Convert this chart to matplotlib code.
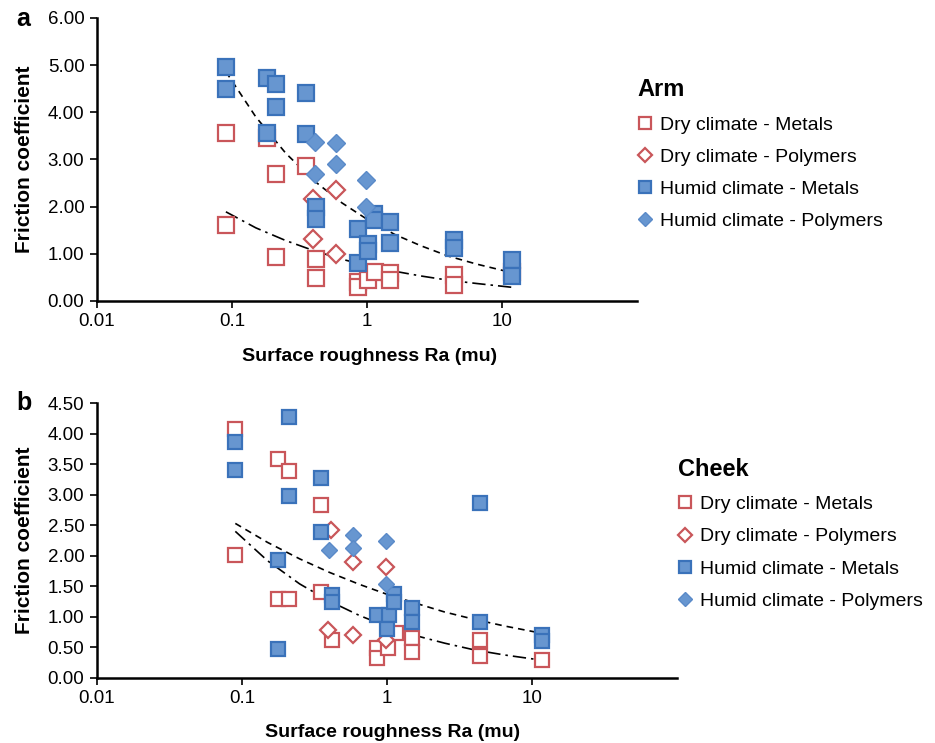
import matplotlib.pyplot as plt
import numpy as np

plt.rcParams['font.family'] = ['Liberation Sans', 'DejaVu Sans']

# ---- panel a (Arm) ----
a_dry_met_x = [0.09, 0.09, 0.18, 0.21, 0.21, 0.35, 0.42, 0.42, 0.86, 0.86, 1.02, 1.14, 1.48, 1.48, 4.37, 4.37, 11.8]
a_dry_met_y = [3.57, 1.61, 3.45, 2.70, 0.94, 2.86, 0.90, 0.48, 0.41, 0.30, 0.45, 0.62, 0.59, 0.45, 0.55, 0.34, 0.62]
a_dry_pol_x = [0.40, 0.40, 0.59, 0.59]
a_dry_pol_y = [2.17, 1.31, 2.35, 1.00]
a_hum_met_x = [0.09, 0.09, 0.18, 0.21, 0.21, 0.35, 0.18, 0.35, 0.42, 0.42, 0.86, 0.86, 1.02, 1.02,
               1.13, 1.13, 1.48, 1.48, 4.37, 4.37, 11.8, 11.8]
a_hum_met_y = [4.96, 4.50, 4.72, 4.59, 4.12, 4.41, 3.55, 3.54, 2.00, 1.74, 1.52, 0.81, 1.20, 1.05,
               1.85, 1.72, 1.68, 1.22, 1.29, 1.12, 0.87, 0.52]
a_hum_pol_x = [0.41, 0.59, 0.59, 0.41, 0.98, 0.98]
a_hum_pol_y = [3.38, 3.35, 2.90, 2.69, 2.56, 2.00]

# ---- panel b (Cheek) ----
b_dry_met_x = [0.089, 0.089, 0.178, 0.21, 0.35, 0.178, 0.21, 0.35, 0.42, 0.86, 0.86, 1.02, 1.16, 1.48, 1.48, 4.38, 4.38, 11.8]
b_dry_met_y = [4.07, 2.01, 3.58, 3.38, 2.83, 1.29, 1.29, 1.41, 0.62, 0.49, 0.32, 0.49, 0.73, 0.65, 0.43, 0.63, 0.36, 0.29]
b_dry_pol_x = [0.41, 0.585, 0.98, 0.39, 0.585, 0.98]
b_dry_pol_y = [2.42, 1.90, 1.82, 0.79, 0.70, 0.63]
b_hum_met_x = [0.089, 0.089, 0.21, 0.21, 0.35, 0.35, 0.178, 0.178, 0.42, 0.42, 0.86, 1.04, 1.0,
               1.12, 1.12, 1.48, 1.48, 4.38, 4.38, 11.8, 11.8]
b_hum_met_y = [3.86, 3.40, 4.27, 2.98, 3.28, 2.39, 1.93, 0.47, 1.36, 1.25, 1.03, 1.03, 0.80,
               1.38, 1.25, 1.14, 0.92, 2.87, 0.91, 0.70, 0.60]
b_hum_pol_x = [0.40, 0.585, 0.585, 0.98, 0.98]
b_hum_pol_y = [2.09, 2.34, 2.12, 2.24, 1.54]

# trend lines
trend_x = [0.09, 0.15, 0.25, 0.4, 0.65, 1, 1.6, 2.5, 4, 6.5, 11.8]
a_trend_hum = [4.86, 3.90, 3.13, 2.56, 2.08, 1.73, 1.41, 1.17, 0.95, 0.78, 0.60]
a_trend_dry = [1.89, 1.55, 1.28, 1.07, 0.885, 0.75, 0.63, 0.53, 0.44, 0.37, 0.29]
b_trend_hum = [2.53, 2.22, 1.95, 1.73, 1.53, 1.37, 1.22, 1.08, 0.96, 0.85, 0.73]
b_trend_dry = [2.40, 1.92, 1.54, 1.26, 1.02, 0.845, 0.69, 0.57, 0.46, 0.376, 0.29]

red = '#c9565a'
blue_face = '#6796d0'
blue_edge = '#3a72ba'

fig = plt.figure(figsize=(9.35, 7.43), dpi=100)
ax1 = fig.add_axes([0.1037, 0.5949, 0.578, 0.381])
ax2 = fig.add_axes([0.1037, 0.0875, 0.6203, 0.370])


def draw(ax, dm, dp, hm, hp, th, td, ms):
    ax.plot(trend_x, th, color='black', lw=1.2, ls=(0, (4, 3)), zorder=1)
    ax.plot(trend_x, td, color='black', lw=1.2, ls=(0, (8, 3, 1.5, 3)), zorder=1)
    ax.plot(dm[0], dm[1], ls='none', marker='s', ms=ms, mfc='white', mec=red, mew=1.6,
            label='Dry climate - Metals', zorder=2)
    ax.plot(dp[0], dp[1], ls='none', marker='D', ms=ms * 0.82, mfc='white', mec=red, mew=1.6,
            label='Dry climate - Polymers', zorder=2)
    ax.plot(hm[0], hm[1], ls='none', marker='s', ms=ms, mfc=blue_face, mec=blue_edge, mew=1.6,
            label='Humid climate - Metals', zorder=3)
    ax.plot(hp[0], hp[1], ls='none', marker='D', ms=ms * 0.82, mfc=blue_face, mec='#5a8ac8', mew=1.0,
            label='Humid climate - Polymers', zorder=3)
    ax.set_xscale('log')
    ax.set_xlim(0.01, 100)
    ax.set_xticks([0.01, 0.1, 1, 10])
    ax.set_xticklabels(['0.01', '0.1', '1', '10'])
    ax.minorticks_off()
    for s in ['top', 'right']:
        ax.spines[s].set_visible(False)
    for s in ['left', 'bottom']:
        ax.spines[s].set_linewidth(1.8)
    ax.tick_params(labelsize=13.5, length=5, width=1.2, pad=4)
    ax.set_xlabel('Surface roughness Ra (mu)', fontsize=14, fontweight='bold')
    ax.set_ylabel('Friction coefficient', fontsize=15, fontweight='bold')
    ax.xaxis.label.set_va('center')
    ax.yaxis.label.set_va('center')


draw(ax1, (a_dry_met_x, a_dry_met_y), (a_dry_pol_x, a_dry_pol_y), (a_hum_met_x, a_hum_met_y),
     (a_hum_pol_x, a_hum_pol_y), a_trend_hum, a_trend_dry, 11)
ax1.set_ylim(0, 6)
ax1.set_yticks(np.arange(0, 6.01, 1))
ax1.set_yticklabels(['%.2f' % v for v in np.arange(0, 6.01, 1)])
ax1.xaxis.set_label_coords(0.504, -0.197)
ax1.yaxis.set_label_coords(-0.134, 0.5)

draw(ax2, (b_dry_met_x, b_dry_met_y), (b_dry_pol_x, b_dry_pol_y), (b_hum_met_x, b_hum_met_y),
     (b_hum_pol_x, b_hum_pol_y), b_trend_hum, b_trend_dry, 10.5)
ax2.set_ylim(0, 4.5)
ax2.set_yticks(np.arange(0, 4.51, 0.5))
ax2.set_yticklabels(['%.2f' % v for v in np.arange(0, 4.51, 0.5)])
ax2.xaxis.set_label_coords(0.509, -0.2)
ax2.yaxis.set_label_coords(-0.125, 0.5)

leg1 = ax1.legend(loc='upper left', bbox_to_anchor=(0.663, 0.918), bbox_transform=fig.transFigure,
                  frameon=False, title='Arm', title_fontproperties={'weight': 'bold', 'size': 17},
                  alignment='left', fontsize=14, markerscale=0.8, handlelength=0.8,
                  handletextpad=0.35, labelspacing=0.75)
leg2 = ax2.legend(loc='upper left', bbox_to_anchor=(0.706, 0.407), bbox_transform=fig.transFigure,
                  frameon=False, title='Cheek', title_fontproperties={'weight': 'bold', 'size': 17},
                  alignment='left', fontsize=14, markerscale=0.8, handlelength=0.8,
                  handletextpad=0.35, labelspacing=0.75)

fig.text(0.017, 0.975, 'a', fontsize=18, fontweight='bold', va='center')
fig.text(0.017, 0.457, 'b', fontsize=18, fontweight='bold', va='center')

fig.savefig('out.png', dpi=100)
